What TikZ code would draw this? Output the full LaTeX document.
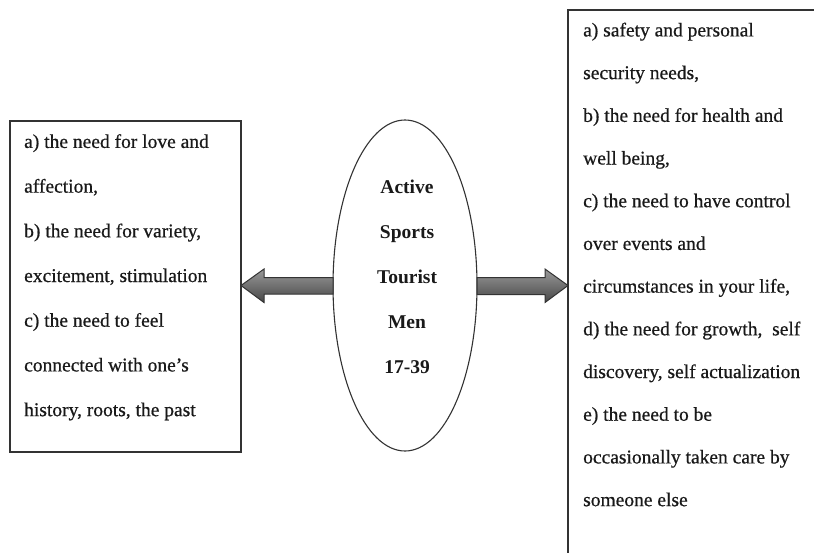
\documentclass[tikz,border=0pt]{standalone}
\usepackage{fontspec}
\setmainfont{Liberation Serif}
\usetikzlibrary{shapes.geometric}
\begin{document}
\begin{tikzpicture}[x=1pt,y=-1pt,
  frame/.style={draw=black!80, line width=1.1pt, inner sep=0pt, outer sep=0pt, anchor=north west},
  txt/.style={inner sep=0pt, align=left, anchor=north west, text=black!90, font=\fontsize{19.5}{#1}\selectfont\addfontfeature{FakeBold=0.6}},
  arrowsty/.style={draw=black!80, line width=1pt, top color=black!40, bottom color=black!72, line join=miter}]
\useasboundingbox (0,0) rectangle (814,552);
\fill[white] (0,0) rectangle (814,552);
\clip (0,0) rectangle (814,552);
% boxes
\node[frame, minimum width=231pt, minimum height=331pt] (L) at (10,121) {};
\node[frame, minimum width=300pt, minimum height=600pt] (R) at (568,10) {};
\node[txt=44.7pt] (Lt) at (24,134) {a) the need for love and\\affection,\\b) the need for variety,\\excitement, stimulation\\c) the need to feel\\connected with one’s\\history, roots, the past};
\node[txt=42.7pt] (Rt) at (583,22.5) {a) safety and personal\\security needs,\\b) the need for health and\\well being,\\c) the need to have control\\over events and\\circumstances in your life,\\d) the need for growth,\ \ self\\discovery, self actualization\\e) the need to be\\occasionally taken care by\\someone else};
% centre ellipse
\node[ellipse, draw=black!80, line width=1.1pt, fill=white, minimum width=144pt, minimum height=331pt, inner sep=0pt, outer sep=0pt] (C) at (405,285.5) {};
\node[inner sep=0pt, align=center, anchor=north, text=black!90, font=\fontsize{19.5}{45}\selectfont\bfseries] (Ct) at (407,179.5) {Active\\Sports\\Tourist\\Men\\17-39};
% arrows
\coordinate (lt) at (L.east |- C.center);
\coordinate (rt) at (R.west |- C.center);
\draw[arrowsty] (lt) -- ([shift={(23,-16.5)}]lt) -- ([shift={(23,-8)}]lt) -- ([shift={(0,-8)}]C.west) -- ([shift={(0,8.5)}]C.west) -- ([shift={(23,8.5)}]lt) -- ([shift={(23,17)}]lt) -- cycle;
\draw[arrowsty] (rt) -- ([shift={(-23,-16.5)}]rt) -- ([shift={(-23,-8)}]rt) -- ([shift={(0,-8)}]C.east) -- ([shift={(0,9)}]C.east) -- ([shift={(-23,9)}]rt) -- ([shift={(-23,17)}]rt) -- cycle;
\end{tikzpicture}
\end{document}
